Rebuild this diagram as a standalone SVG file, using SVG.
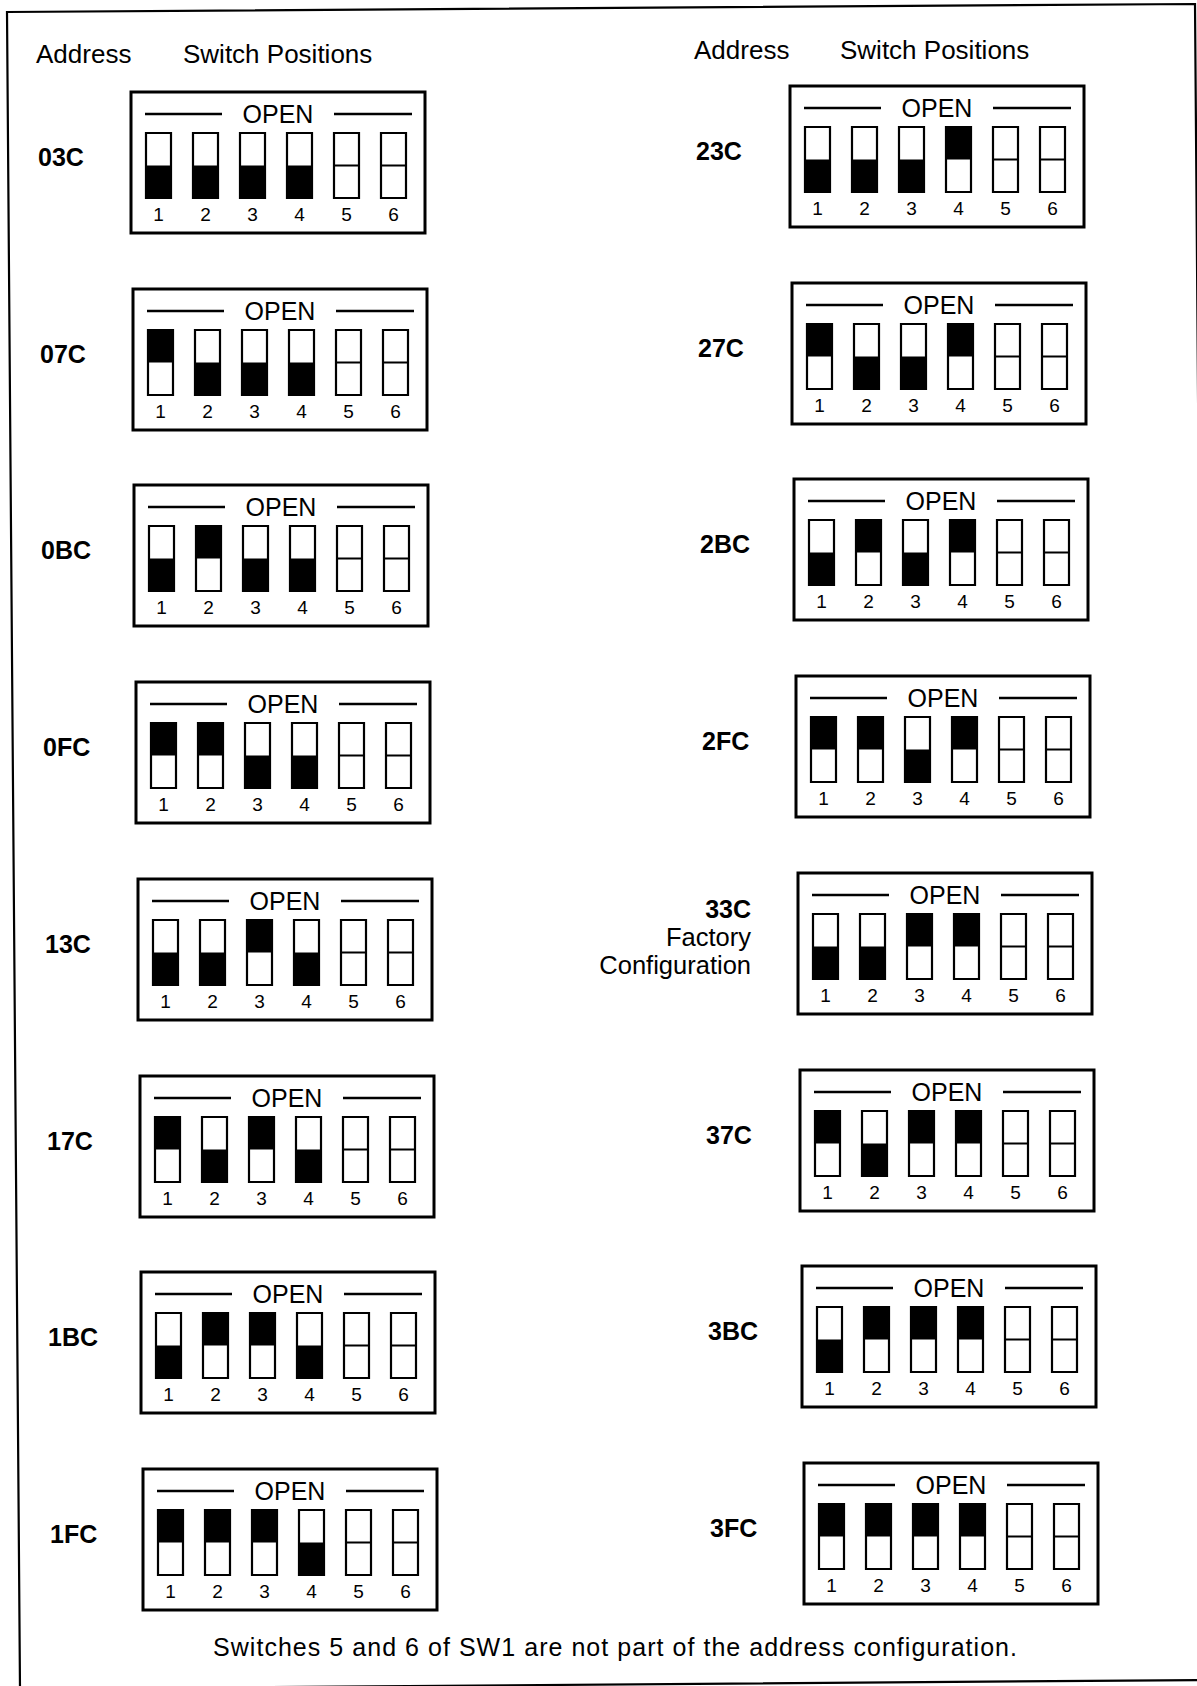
<svg xmlns="http://www.w3.org/2000/svg" width="1197" height="1686" viewBox="0 0 1197 1686">
<style>
text{font-family:"Liberation Sans",Arial,Helvetica,sans-serif;fill:#000}
.hdr{font-size:26px}
.lbl{font-size:25px;font-weight:bold}
.lbl2{font-size:25.5px;text-anchor:end}
.open{font-size:25px;text-anchor:middle}
.num{font-size:19px;text-anchor:middle}
.cap{font-size:25px}
.box{fill:#fff;stroke:#000;stroke-width:3}
.rule{fill:none;stroke:#000;stroke-width:2.5}
.sw{fill:none;stroke:#000;stroke-width:2.2}
.fill{fill:#000;stroke:none}
.border{fill:none;stroke:#000;stroke-width:2.2}
</style>
<rect width="1197" height="1686" fill="#fff"/>
<polygon class="border" points="7,12 1195,4 1208,1680 20,1689"/>
<g id="headers">
<text class="hdr" x="36" y="63">Address</text>
<text class="hdr" x="183" y="63">Switch Positions</text>
<text class="hdr" x="694" y="59">Address</text>
<text class="hdr" x="840" y="59">Switch Positions</text>
</g>

<g id="node-03C" transform="translate(131,92)">
<text class="lbl" x="-93" y="74">03C</text>
<rect class="box" width="294" height="141"/>
<path class="rule" d="M14 22H91M203 22H281"/>
<text class="open" x="147" y="31">OPEN</text>
<path class="fill" d="M15 73.5h25v32.5h-25zM62 73.5h25v32.5h-25zM109 73.5h25v32.5h-25zM156 73.5h25v32.5h-25z"/>
<path class="sw" d="M15 41h25v65h-25zM62 41h25v65h-25zM109 41h25v65h-25zM156 41h25v65h-25zM203 41h25v65h-25zM250 41h25v65h-25zM203 73.5h25M250 73.5h25"/>
<text class="num" x="27.5" y="129">1</text><text class="num" x="74.5" y="129">2</text><text class="num" x="121.5" y="129">3</text><text class="num" x="168.5" y="129">4</text><text class="num" x="215.5" y="129">5</text><text class="num" x="262.5" y="129">6</text>
</g>

<g id="node-07C" transform="translate(133,289)">
<text class="lbl" x="-93" y="74">07C</text>
<rect class="box" width="294" height="141"/>
<path class="rule" d="M14 22H91M203 22H281"/>
<text class="open" x="147" y="31">OPEN</text>
<path class="fill" d="M15 41h25v32.5h-25zM62 73.5h25v32.5h-25zM109 73.5h25v32.5h-25zM156 73.5h25v32.5h-25z"/>
<path class="sw" d="M15 41h25v65h-25zM62 41h25v65h-25zM109 41h25v65h-25zM156 41h25v65h-25zM203 41h25v65h-25zM250 41h25v65h-25zM203 73.5h25M250 73.5h25"/>
<text class="num" x="27.5" y="129">1</text><text class="num" x="74.5" y="129">2</text><text class="num" x="121.5" y="129">3</text><text class="num" x="168.5" y="129">4</text><text class="num" x="215.5" y="129">5</text><text class="num" x="262.5" y="129">6</text>
</g>

<g id="node-0BC" transform="translate(134,485)">
<text class="lbl" x="-93" y="74">0BC</text>
<rect class="box" width="294" height="141"/>
<path class="rule" d="M14 22H91M203 22H281"/>
<text class="open" x="147" y="31">OPEN</text>
<path class="fill" d="M15 73.5h25v32.5h-25zM62 41h25v32.5h-25zM109 73.5h25v32.5h-25zM156 73.5h25v32.5h-25z"/>
<path class="sw" d="M15 41h25v65h-25zM62 41h25v65h-25zM109 41h25v65h-25zM156 41h25v65h-25zM203 41h25v65h-25zM250 41h25v65h-25zM203 73.5h25M250 73.5h25"/>
<text class="num" x="27.5" y="129">1</text><text class="num" x="74.5" y="129">2</text><text class="num" x="121.5" y="129">3</text><text class="num" x="168.5" y="129">4</text><text class="num" x="215.5" y="129">5</text><text class="num" x="262.5" y="129">6</text>
</g>

<g id="node-0FC" transform="translate(136,682)">
<text class="lbl" x="-93" y="74">0FC</text>
<rect class="box" width="294" height="141"/>
<path class="rule" d="M14 22H91M203 22H281"/>
<text class="open" x="147" y="31">OPEN</text>
<path class="fill" d="M15 41h25v32.5h-25zM62 41h25v32.5h-25zM109 73.5h25v32.5h-25zM156 73.5h25v32.5h-25z"/>
<path class="sw" d="M15 41h25v65h-25zM62 41h25v65h-25zM109 41h25v65h-25zM156 41h25v65h-25zM203 41h25v65h-25zM250 41h25v65h-25zM203 73.5h25M250 73.5h25"/>
<text class="num" x="27.5" y="129">1</text><text class="num" x="74.5" y="129">2</text><text class="num" x="121.5" y="129">3</text><text class="num" x="168.5" y="129">4</text><text class="num" x="215.5" y="129">5</text><text class="num" x="262.5" y="129">6</text>
</g>

<g id="node-13C" transform="translate(138,879)">
<text class="lbl" x="-93" y="74">13C</text>
<rect class="box" width="294" height="141"/>
<path class="rule" d="M14 22H91M203 22H281"/>
<text class="open" x="147" y="31">OPEN</text>
<path class="fill" d="M15 73.5h25v32.5h-25zM62 73.5h25v32.5h-25zM109 41h25v32.5h-25zM156 73.5h25v32.5h-25z"/>
<path class="sw" d="M15 41h25v65h-25zM62 41h25v65h-25zM109 41h25v65h-25zM156 41h25v65h-25zM203 41h25v65h-25zM250 41h25v65h-25zM203 73.5h25M250 73.5h25"/>
<text class="num" x="27.5" y="129">1</text><text class="num" x="74.5" y="129">2</text><text class="num" x="121.5" y="129">3</text><text class="num" x="168.5" y="129">4</text><text class="num" x="215.5" y="129">5</text><text class="num" x="262.5" y="129">6</text>
</g>

<g id="node-17C" transform="translate(140,1076)">
<text class="lbl" x="-93" y="74">17C</text>
<rect class="box" width="294" height="141"/>
<path class="rule" d="M14 22H91M203 22H281"/>
<text class="open" x="147" y="31">OPEN</text>
<path class="fill" d="M15 41h25v32.5h-25zM62 73.5h25v32.5h-25zM109 41h25v32.5h-25zM156 73.5h25v32.5h-25z"/>
<path class="sw" d="M15 41h25v65h-25zM62 41h25v65h-25zM109 41h25v65h-25zM156 41h25v65h-25zM203 41h25v65h-25zM250 41h25v65h-25zM203 73.5h25M250 73.5h25"/>
<text class="num" x="27.5" y="129">1</text><text class="num" x="74.5" y="129">2</text><text class="num" x="121.5" y="129">3</text><text class="num" x="168.5" y="129">4</text><text class="num" x="215.5" y="129">5</text><text class="num" x="262.5" y="129">6</text>
</g>

<g id="node-1BC" transform="translate(141,1272)">
<text class="lbl" x="-93" y="74">1BC</text>
<rect class="box" width="294" height="141"/>
<path class="rule" d="M14 22H91M203 22H281"/>
<text class="open" x="147" y="31">OPEN</text>
<path class="fill" d="M15 73.5h25v32.5h-25zM62 41h25v32.5h-25zM109 41h25v32.5h-25zM156 73.5h25v32.5h-25z"/>
<path class="sw" d="M15 41h25v65h-25zM62 41h25v65h-25zM109 41h25v65h-25zM156 41h25v65h-25zM203 41h25v65h-25zM250 41h25v65h-25zM203 73.5h25M250 73.5h25"/>
<text class="num" x="27.5" y="129">1</text><text class="num" x="74.5" y="129">2</text><text class="num" x="121.5" y="129">3</text><text class="num" x="168.5" y="129">4</text><text class="num" x="215.5" y="129">5</text><text class="num" x="262.5" y="129">6</text>
</g>

<g id="node-1FC" transform="translate(143,1469)">
<text class="lbl" x="-93" y="74">1FC</text>
<rect class="box" width="294" height="141"/>
<path class="rule" d="M14 22H91M203 22H281"/>
<text class="open" x="147" y="31">OPEN</text>
<path class="fill" d="M15 41h25v32.5h-25zM62 41h25v32.5h-25zM109 41h25v32.5h-25zM156 73.5h25v32.5h-25z"/>
<path class="sw" d="M15 41h25v65h-25zM62 41h25v65h-25zM109 41h25v65h-25zM156 41h25v65h-25zM203 41h25v65h-25zM250 41h25v65h-25zM203 73.5h25M250 73.5h25"/>
<text class="num" x="27.5" y="129">1</text><text class="num" x="74.5" y="129">2</text><text class="num" x="121.5" y="129">3</text><text class="num" x="168.5" y="129">4</text><text class="num" x="215.5" y="129">5</text><text class="num" x="262.5" y="129">6</text>
</g>

<g id="node-23C" transform="translate(790,86)">
<text class="lbl" x="-94" y="74">23C</text>
<rect class="box" width="294" height="141"/>
<path class="rule" d="M14 22H91M203 22H281"/>
<text class="open" x="147" y="31">OPEN</text>
<path class="fill" d="M15 73.5h25v32.5h-25zM62 73.5h25v32.5h-25zM109 73.5h25v32.5h-25zM156 41h25v32.5h-25z"/>
<path class="sw" d="M15 41h25v65h-25zM62 41h25v65h-25zM109 41h25v65h-25zM156 41h25v65h-25zM203 41h25v65h-25zM250 41h25v65h-25zM203 73.5h25M250 73.5h25"/>
<text class="num" x="27.5" y="129">1</text><text class="num" x="74.5" y="129">2</text><text class="num" x="121.5" y="129">3</text><text class="num" x="168.5" y="129">4</text><text class="num" x="215.5" y="129">5</text><text class="num" x="262.5" y="129">6</text>
</g>

<g id="node-27C" transform="translate(792,283)">
<text class="lbl" x="-94" y="74">27C</text>
<rect class="box" width="294" height="141"/>
<path class="rule" d="M14 22H91M203 22H281"/>
<text class="open" x="147" y="31">OPEN</text>
<path class="fill" d="M15 41h25v32.5h-25zM62 73.5h25v32.5h-25zM109 73.5h25v32.5h-25zM156 41h25v32.5h-25z"/>
<path class="sw" d="M15 41h25v65h-25zM62 41h25v65h-25zM109 41h25v65h-25zM156 41h25v65h-25zM203 41h25v65h-25zM250 41h25v65h-25zM203 73.5h25M250 73.5h25"/>
<text class="num" x="27.5" y="129">1</text><text class="num" x="74.5" y="129">2</text><text class="num" x="121.5" y="129">3</text><text class="num" x="168.5" y="129">4</text><text class="num" x="215.5" y="129">5</text><text class="num" x="262.5" y="129">6</text>
</g>

<g id="node-2BC" transform="translate(794,479)">
<text class="lbl" x="-94" y="74">2BC</text>
<rect class="box" width="294" height="141"/>
<path class="rule" d="M14 22H91M203 22H281"/>
<text class="open" x="147" y="31">OPEN</text>
<path class="fill" d="M15 73.5h25v32.5h-25zM62 41h25v32.5h-25zM109 73.5h25v32.5h-25zM156 41h25v32.5h-25z"/>
<path class="sw" d="M15 41h25v65h-25zM62 41h25v65h-25zM109 41h25v65h-25zM156 41h25v65h-25zM203 41h25v65h-25zM250 41h25v65h-25zM203 73.5h25M250 73.5h25"/>
<text class="num" x="27.5" y="129">1</text><text class="num" x="74.5" y="129">2</text><text class="num" x="121.5" y="129">3</text><text class="num" x="168.5" y="129">4</text><text class="num" x="215.5" y="129">5</text><text class="num" x="262.5" y="129">6</text>
</g>

<g id="node-2FC" transform="translate(796,676)">
<text class="lbl" x="-94" y="74">2FC</text>
<rect class="box" width="294" height="141"/>
<path class="rule" d="M14 22H91M203 22H281"/>
<text class="open" x="147" y="31">OPEN</text>
<path class="fill" d="M15 41h25v32.5h-25zM62 41h25v32.5h-25zM109 73.5h25v32.5h-25zM156 41h25v32.5h-25z"/>
<path class="sw" d="M15 41h25v65h-25zM62 41h25v65h-25zM109 41h25v65h-25zM156 41h25v65h-25zM203 41h25v65h-25zM250 41h25v65h-25zM203 73.5h25M250 73.5h25"/>
<text class="num" x="27.5" y="129">1</text><text class="num" x="74.5" y="129">2</text><text class="num" x="121.5" y="129">3</text><text class="num" x="168.5" y="129">4</text><text class="num" x="215.5" y="129">5</text><text class="num" x="262.5" y="129">6</text>
</g>

<g id="node-33C" transform="translate(798,873)">
<text class="lbl" x="-47" y="45" text-anchor="end">33C</text>
<text class="lbl2" x="-47" y="73">Factory</text>
<text class="lbl2" x="-47" y="101">Configuration</text>
<rect class="box" width="294" height="141"/>
<path class="rule" d="M14 22H91M203 22H281"/>
<text class="open" x="147" y="31">OPEN</text>
<path class="fill" d="M15 73.5h25v32.5h-25zM62 73.5h25v32.5h-25zM109 41h25v32.5h-25zM156 41h25v32.5h-25z"/>
<path class="sw" d="M15 41h25v65h-25zM62 41h25v65h-25zM109 41h25v65h-25zM156 41h25v65h-25zM203 41h25v65h-25zM250 41h25v65h-25zM203 73.5h25M250 73.5h25"/>
<text class="num" x="27.5" y="129">1</text><text class="num" x="74.5" y="129">2</text><text class="num" x="121.5" y="129">3</text><text class="num" x="168.5" y="129">4</text><text class="num" x="215.5" y="129">5</text><text class="num" x="262.5" y="129">6</text>
</g>

<g id="node-37C" transform="translate(800,1070)">
<text class="lbl" x="-94" y="74">37C</text>
<rect class="box" width="294" height="141"/>
<path class="rule" d="M14 22H91M203 22H281"/>
<text class="open" x="147" y="31">OPEN</text>
<path class="fill" d="M15 41h25v32.5h-25zM62 73.5h25v32.5h-25zM109 41h25v32.5h-25zM156 41h25v32.5h-25z"/>
<path class="sw" d="M15 41h25v65h-25zM62 41h25v65h-25zM109 41h25v65h-25zM156 41h25v65h-25zM203 41h25v65h-25zM250 41h25v65h-25zM203 73.5h25M250 73.5h25"/>
<text class="num" x="27.5" y="129">1</text><text class="num" x="74.5" y="129">2</text><text class="num" x="121.5" y="129">3</text><text class="num" x="168.5" y="129">4</text><text class="num" x="215.5" y="129">5</text><text class="num" x="262.5" y="129">6</text>
</g>

<g id="node-3BC" transform="translate(802,1266)">
<text class="lbl" x="-94" y="74">3BC</text>
<rect class="box" width="294" height="141"/>
<path class="rule" d="M14 22H91M203 22H281"/>
<text class="open" x="147" y="31">OPEN</text>
<path class="fill" d="M15 73.5h25v32.5h-25zM62 41h25v32.5h-25zM109 41h25v32.5h-25zM156 41h25v32.5h-25z"/>
<path class="sw" d="M15 41h25v65h-25zM62 41h25v65h-25zM109 41h25v65h-25zM156 41h25v65h-25zM203 41h25v65h-25zM250 41h25v65h-25zM203 73.5h25M250 73.5h25"/>
<text class="num" x="27.5" y="129">1</text><text class="num" x="74.5" y="129">2</text><text class="num" x="121.5" y="129">3</text><text class="num" x="168.5" y="129">4</text><text class="num" x="215.5" y="129">5</text><text class="num" x="262.5" y="129">6</text>
</g>

<g id="node-3FC" transform="translate(804,1463)">
<text class="lbl" x="-94" y="74">3FC</text>
<rect class="box" width="294" height="141"/>
<path class="rule" d="M14 22H91M203 22H281"/>
<text class="open" x="147" y="31">OPEN</text>
<path class="fill" d="M15 41h25v32.5h-25zM62 41h25v32.5h-25zM109 41h25v32.5h-25zM156 41h25v32.5h-25z"/>
<path class="sw" d="M15 41h25v65h-25zM62 41h25v65h-25zM109 41h25v65h-25zM156 41h25v65h-25zM203 41h25v65h-25zM250 41h25v65h-25zM203 73.5h25M250 73.5h25"/>
<text class="num" x="27.5" y="129">1</text><text class="num" x="74.5" y="129">2</text><text class="num" x="121.5" y="129">3</text><text class="num" x="168.5" y="129">4</text><text class="num" x="215.5" y="129">5</text><text class="num" x="262.5" y="129">6</text>
</g>

<g id="connectors"></g>

<text class="cap" x="213" y="1656" textLength="804" lengthAdjust="spacing">Switches 5 and 6 of SW1 are not part of the address configuration.</text>
</svg>
